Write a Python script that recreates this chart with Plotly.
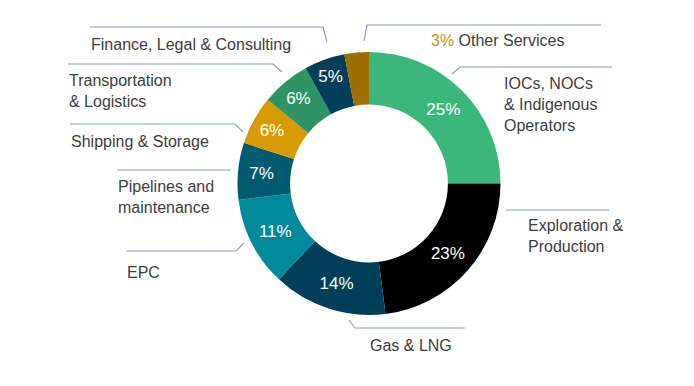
import plotly.graph_objects as go

# ---- data ----
categories = [
    "IOCs, NOCs & Indigenous Operators",
    "Exploration & Production",
    "Gas & LNG",
    "EPC",
    "Pipelines and maintenance",
    "Shipping & Storage",
    "Transportation & Logistics",
    "Finance, Legal & Consulting",
    "Other Services",
]
shares = [25, 23, 14, 11, 7, 6, 6, 5, 3]
inside_labels = ["25%", "23%", "14%", "11%", "7%", "6%", "6%", "5%", ""]
colors = ["#3BB77C", "#020202", "#003F5A", "#00899A", "#005B6E",
          "#D99A00", "#2E9466", "#033E5A", "#A06E00"]

# page is offset by the default 8px body margin
OFF = 8
W, H = 694 - 2 * OFF, 386 - 2 * OFF

def px(x):
    return (x - OFF) / W

def py(y):
    return 1 - (y - OFF) / H

fig = go.Figure()
fig.add_trace(go.Pie(
    labels=categories,
    values=shares,
    text=inside_labels,
    texttemplate="%{text}",
    textposition="inside",
    insidetextorientation="horizontal",
    insidetextfont=dict(color="white", size=17, family="Liberation Sans"),
    marker=dict(colors=colors, line=dict(width=0)),
    hole=0.6,
    sort=False,
    direction="clockwise",
    rotation=0,
    showlegend=False,
    domain=dict(x=[px(237), px(501)], y=[py(315), py(52)]),
    hoverinfo="label+value",
))

# outside labels (text, x-left, y-center)
text_color = "#3d3d3d"
labels_out = [
    ("Finance, Legal & Consulting", 89, 44),
    ("Transportation<br>& Logistics", 67, 91),
    ("Shipping & Storage", 69, 141),
    ("Pipelines and<br>maintenance", 116, 197),
    ("EPC", 125, 272),
    ("Gas & LNG", 368, 345),
    ("Exploration &<br>Production", 526, 236),
    ("IOCs, NOCs<br>& Indigenous<br>Operators", 502, 104),
    ("<span style='color:#C8901C'>3%</span> Other Services", 429, 41),
]
for t, x, y in labels_out:
    fig.add_annotation(
        text=t, x=px(x), y=py(y), xref="paper", yref="paper",
        xanchor="left", yanchor="middle", align="left", showarrow=False,
        font=dict(size=16, color=text_color, family="Liberation Sans"),
    )

# leader lines (polylines in pixel coords)
leaders = [
    [(90, 27), (323, 27), (327, 42)],
    [(68, 64), (273, 64), (282, 72)],
    [(70, 124), (235, 124), (243, 132)],
    [(117, 170), (231, 170)],
    [(126, 251), (236, 251), (244, 243)],
    [(349, 320), (355, 328), (465, 328)],
    [(506, 210), (609, 210)],
    [(452, 74), (460, 67), (612, 67)],
    [(364, 41), (367, 25), (601, 25)],
]
for pts in leaders:
    path = "M " + " L ".join(f"{px(a):.5f},{py(b):.5f}" for a, b in pts)
    fig.add_shape(type="path", path=path, xref="paper", yref="paper",
                  line=dict(color="#8A9DD6", width=1.2))

fig.update_layout(
    width=W, height=H,
    margin=dict(l=0, r=0, t=0, b=0),
    paper_bgcolor="white",
    plot_bgcolor="white",
)

fig.write_html("out.html")
